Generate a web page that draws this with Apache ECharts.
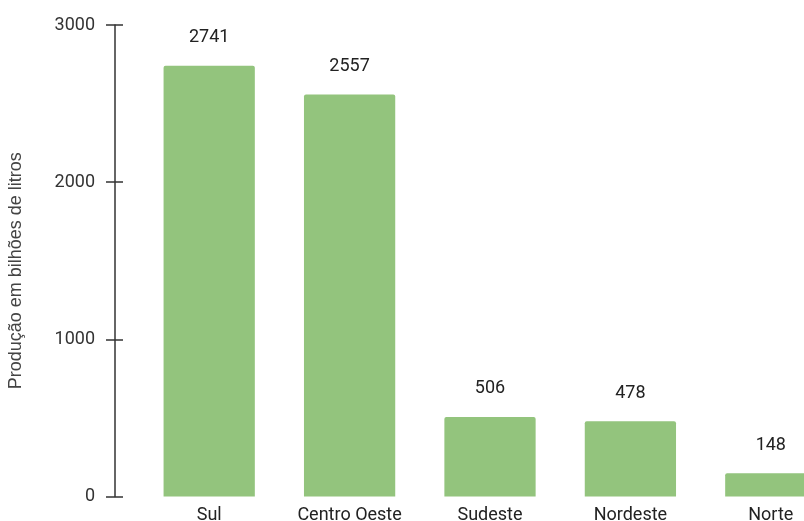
<!DOCTYPE html>
<html>
<head>
<meta charset="utf-8">
<script src="https://cdn.jsdelivr.net/npm/echarts@6/dist/echarts.min.js"></script>
<style>
  html, body { margin: 0; padding: 0; background: #fff; }
  #chart { width: 804px; height: 521px; }
</style>
</head>
<body>
<div id="chart"></div>
<script>
// Produção por região (bilhões de litros)
const regioes = ['Sul', 'Centro Oeste', 'Sudeste', 'Nordeste', 'Norte'];
const producao = [2741, 2557, 506, 478, 148];
const yTicks = [0, 1000, 2000, 3000];

const font = 'Roboto, "Noto Sans", sans-serif';
const axisColor = '#333';

const chart = echarts.init(document.getElementById('chart'), null, { renderer: 'canvas' });

const baseY = {
  type: 'value',
  min: yTicks[0],
  max: yTicks[yTicks.length - 1],
  interval: yTicks[1] - yTicks[0],
  position: 'left',
  offset: 24,
  splitLine: { show: false }
};

chart.setOption({
  animation: false,
  // the plot runs past the right edge, so the last bar is clipped
  grid: { left: 139, width: 702, top: 25, bottom: 24.5, containLabel: false, outerBoundsMode: 'none' },
  xAxis: {
    type: 'category',
    data: regioes,
    axisLine: { show: false },
    axisTick: { show: false },
    axisLabel: { color: '#222', fontSize: 18, fontFamily: font, margin: 10 }
  },
  yAxis: [
    Object.assign({}, baseY, {
      name: 'Produção em bilhões de litros',
      nameLocation: 'middle',
      nameRotate: 90,
      nameGap: 90,
      nameTextStyle: {
        color: '#444', fontSize: 18,
        fontFamily: '"Liberation Sans", Arial, sans-serif',
        padding: [0, 20, 0, 0]
      },
      axisLine: { show: true, lineStyle: { color: axisColor, width: 1.5 } },
      axisTick: { show: true, length: 9, lineStyle: { color: axisColor, width: 1.5 } },
      axisLabel: {
        color: '#333', fontSize: 18, fontFamily: font, margin: 20,
        formatter: v => String(v)
      }
    }),
    Object.assign({}, baseY, {
      axisLine: { show: false },
      axisTick: { show: true, inside: true, length: 8, lineStyle: { color: axisColor, width: 1.5 } },
      axisLabel: { show: false }
    })
  ],
  series: [{
    type: 'bar',
    data: producao,
    barCategoryGap: '35%',
    itemStyle: { color: '#93C47D', borderRadius: [2, 2, 0, 0] },
    label: {
      show: true,
      position: 'top',
      distance: 19,
      color: '#222',
      fontSize: 18,
      fontFamily: font
    }
  }]
});
</script>
</body>
</html>
